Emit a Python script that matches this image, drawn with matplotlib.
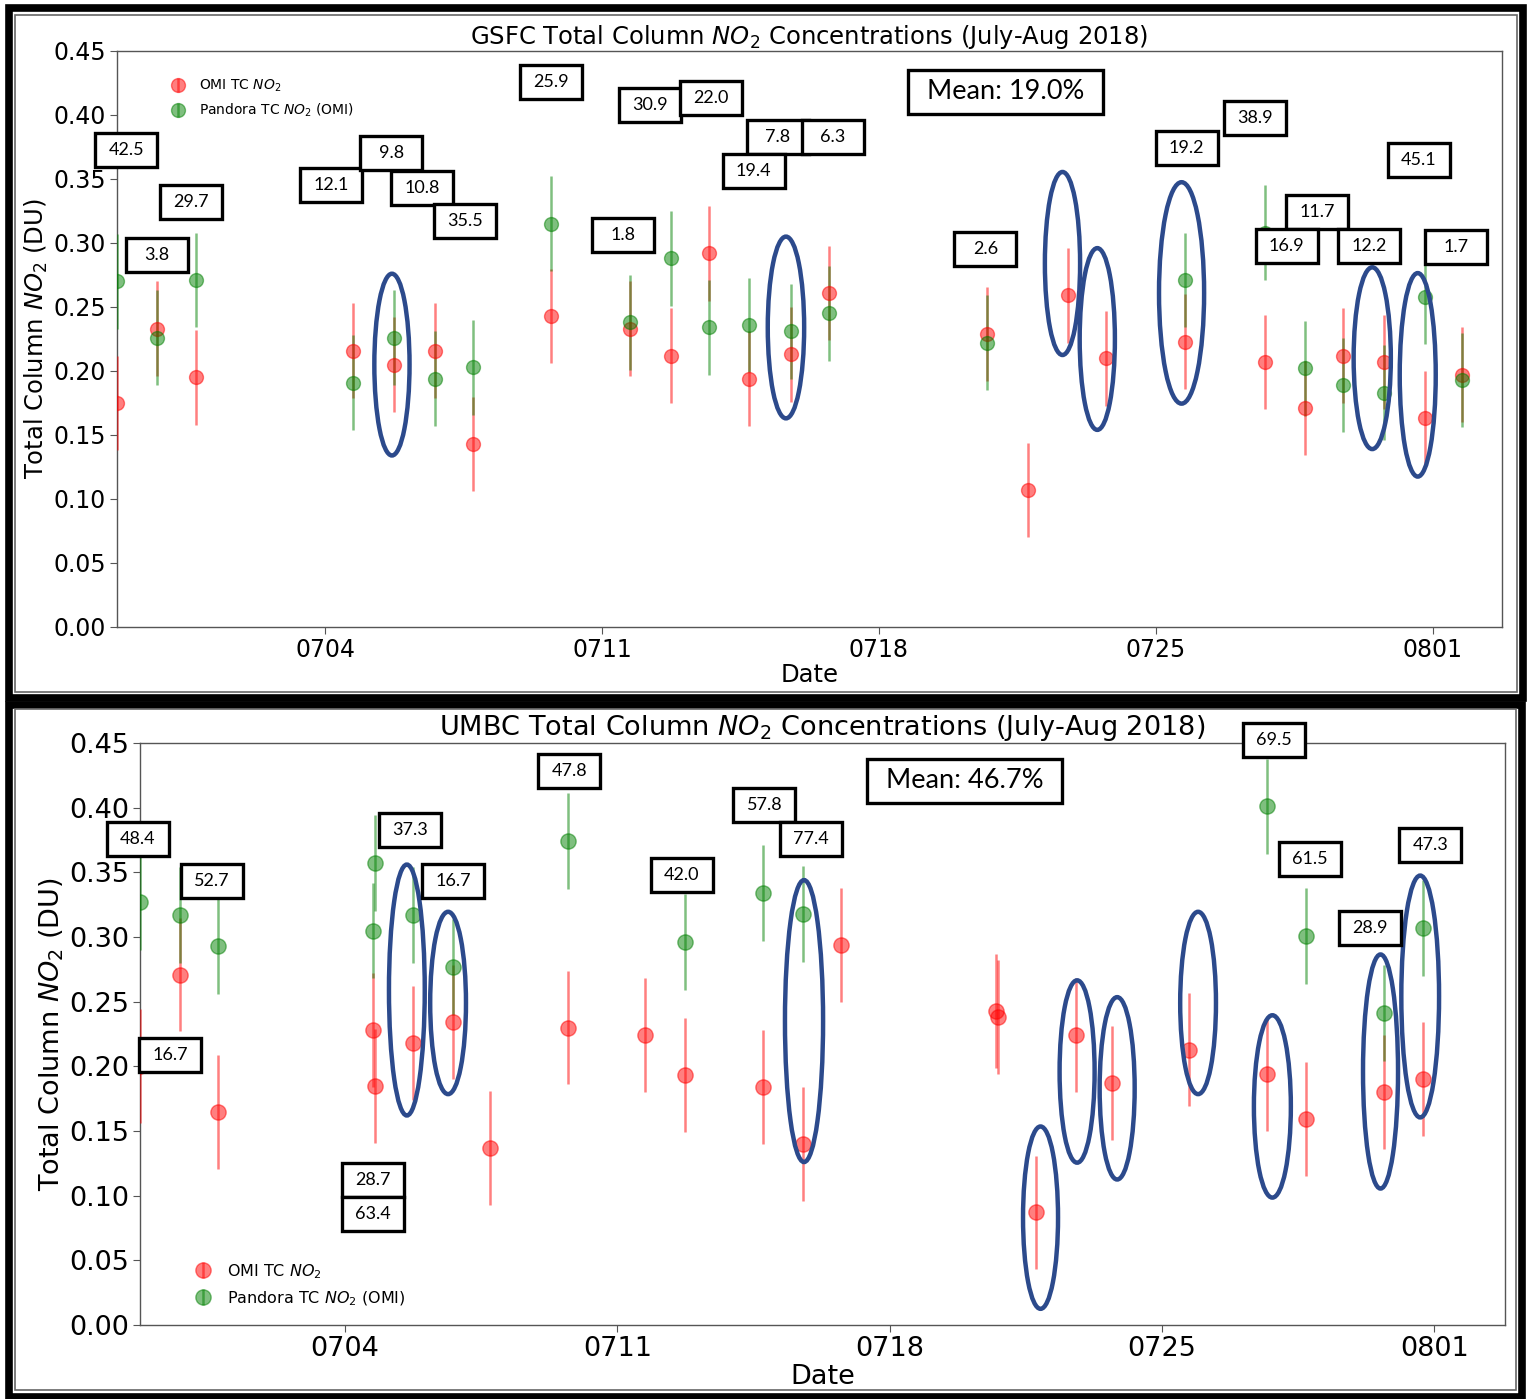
import numpy as np
import pandas as pd
import matplotlib
matplotlib.use('Agg')
import matplotlib.pyplot as plt
import matplotlib.dates as mdates
from matplotlib.patches import Rectangle, Ellipse
from matplotlib.transforms import ScaledTranslation

# OMI overpass times, as fractional day of July 2018 (32 = Aug 1)
gsfc_day = [-1.26, -0.25, 0.74, 4.71, 5.74, 6.78, 7.74, 9.71, 11.71, 12.74, 13.70,
            14.71, 15.78, 16.74, 20.73, 21.77, 22.78, 23.74, 25.73, 27.75, 28.76,
            29.73, 30.76, 31.80, 32.73]
gsfc_omi = [0.175, 0.233, 0.195, 0.216, 0.205, 0.216, 0.143, 0.243, 0.233, 0.212, 0.292,
            0.194, 0.213, 0.261, 0.229, 0.107, 0.259, 0.210, 0.223, 0.207, 0.171,
            0.212, 0.207, 0.163, 0.197]
gsfc_pandora = [0.270, 0.226, 0.271, 0.191, 0.226, 0.194, 0.203, 0.315, 0.238, 0.288, 0.234,
                0.236, 0.231, 0.245, 0.222, np.nan, np.nan, np.nan, 0.271, 0.308, 0.202,
                0.189, 0.183, 0.258, 0.193]
gsfc_omi_err = [0.037] * len(gsfc_day)
gsfc_pan_err = [0.037] * len(gsfc_day)

umbc_day = [-1.27, -0.24, 0.74, 4.72, 4.78, 5.75, 6.78, 7.73, 9.73, 11.71, 12.74, 14.75,
            15.77, 16.75, 20.73, 20.78, 21.76, 22.79, 23.73, 25.70, 27.70, 28.70, 30.70, 31.70]
umbc_omi = [0.200, 0.271, 0.165, 0.228, 0.185, 0.218, 0.234, 0.137, 0.230, 0.224, 0.193, 0.184,
            0.140, 0.294, 0.243, 0.238, 0.087, 0.224, 0.187, 0.213, 0.194, 0.159, 0.180, 0.190]
umbc_pandora = [0.327, 0.317, 0.293, 0.305, 0.357, 0.317, 0.277, np.nan, 0.374, np.nan, 0.296,
                0.334, 0.318, np.nan, np.nan, np.nan, np.nan, np.nan, np.nan, np.nan,
                0.401, 0.301, 0.241, 0.307]
umbc_omi_err = [0.044] * len(umbc_day)
umbc_pan_err = [0.037] * len(umbc_day)

# percent-difference labels: (day, DU, text)
gsfc_labels = [(-1.03, 0.373, '42.5'), (0.61, 0.332, '29.7'), (-0.25, 0.291, '3.8'),
               (4.15, 0.345, '12.1'), (5.67, 0.370, '9.8'), (6.45, 0.343, '10.8'),
               (7.54, 0.317, '35.5'), (9.70, 0.426, '25.9'), (12.21, 0.408, '30.9'),
               (13.75, 0.413, '22.0'), (15.44, 0.383, '7.8'), (16.83, 0.383, '6.3'),
               (14.83, 0.356, '19.4'), (11.54, 0.306, '1.8'), (20.69, 0.295, '2.6'),
               (25.78, 0.374, '19.2'), (27.50, 0.398, '38.9'), (31.65, 0.365, '45.1'),
               (29.08, 0.324, '11.7'), (28.31, 0.298, '16.9'), (30.40, 0.298, '12.2'),
               (32.58, 0.297, '1.7')]
umbc_labels = [(-1.32, 0.376, '48.4'), (0.58, 0.343, '52.7'), (-0.49, 0.209, '16.7'),
               (5.67, 0.383, '37.3'), (6.78, 0.343, '16.7'), (4.72, 0.112, '28.7'),
               (4.72, 0.086, '63.4'), (9.77, 0.428, '47.8'), (12.66, 0.348, '42.0'),
               (14.78, 0.402, '57.8'), (15.98, 0.376, '77.4'), (27.87, 0.452, '69.5'),
               (28.81, 0.360, '61.5'), (30.35, 0.307, '28.9'), (31.90, 0.371, '47.3')]
gsfc_mean = (21.21, 0.418, 'Mean: 19.0%')
umbc_mean = (19.93, 0.421, 'Mean: 46.7%')

# highlighted points: (day, DU, width in days, height in DU)
gsfc_rings = [(5.69, 0.205, 0.89, 0.142), (15.65, 0.234, 0.92, 0.142),
              (22.64, 0.284, 0.89, 0.143), (23.52, 0.225, 0.89, 0.142),
              (25.65, 0.261, 1.14, 0.173), (30.47, 0.210, 0.94, 0.142),
              (31.62, 0.197, 0.91, 0.159)]
umbc_rings = [(5.59, 0.259, 0.92, 0.194), (6.65, 0.249, 0.92, 0.141),
              (15.80, 0.235, 0.98, 0.218), (21.88, 0.083, 0.90, 0.141),
              (22.82, 0.196, 0.90, 0.141), (23.85, 0.183, 0.90, 0.141),
              (25.93, 0.249, 0.92, 0.141), (27.84, 0.169, 0.95, 0.141),
              (30.62, 0.196, 0.90, 0.181), (31.64, 0.254, 0.97, 0.187)]

yticks = [0.00, 0.05, 0.10, 0.15, 0.20, 0.25, 0.30, 0.35, 0.40, 0.45]
base = pd.Timestamp('2018-06-30')


def to_date(d):
    return mdates.date2num(base + pd.to_timedelta(np.asarray(d, dtype=float), unit='D'))


W, H = 1531, 1399
fig = plt.figure(figsize=(W / 100, H / 100), dpi=100)

ax1 = fig.add_axes([117 / W, 1 - 627 / H, 1385 / W, 576 / H])
ax2 = fig.add_axes([140 / W, 1 - 1325 / H, 1365 / W, 582 / H])

RING = '#2c4a8c'


def box(ax, d, v, text, w=0.62, h=0.34, fs=13, z=5):
    tr = fig.dpi_scale_trans + ScaledTranslation(to_date(d), v, ax.transData)
    ax.add_patch(Rectangle((-w / 2, -h / 2), w, h, transform=tr, fc='white', ec='black',
                           lw=2.4, clip_on=False, zorder=z))
    ax.text(0, 0, text, transform=tr, ha='center', va='center', fontsize=fs,
            family='Lato', zorder=z + 0.5, clip_on=False)


def panel(ax, title, day, omi, pan, oerr, perr, labels, mean, rings, xlim,
          legloc, legfs, ms, fs):
    x = to_date(day)
    ax.errorbar(x, omi, yerr=oerr, fmt='o', color='r', ms=ms, elinewidth=1.8,
                alpha=0.5, label='OMI TC $NO_2$', zorder=3)
    ax.errorbar(x, pan, yerr=perr, fmt='o', color='g', ms=ms, elinewidth=1.8,
                alpha=0.5, label='Pandora TC $NO_2$ (OMI)', zorder=3)
    for d, v, w, h in rings:
        ax.add_patch(Ellipse((to_date(d), v), w, h, fill=False, ec=RING, lw=3.2, zorder=4))
    for i, (d, v, t) in enumerate(labels):
        box(ax, d, v, t, z=5 + i)
    box(ax, mean[0], mean[1], mean[2], w=1.95, h=0.44, fs=19.5, z=40)

    ax.set_xlim(to_date(xlim[0]), to_date(xlim[1]))
    ax.set_ylim(0, 0.45)
    ax.set_yticks(yticks)
    ax.yaxis.set_major_formatter(matplotlib.ticker.FormatStrFormatter('%.2f'))
    ax.xaxis.set_major_locator(mdates.WeekdayLocator(byweekday=mdates.WE))
    ax.xaxis.set_major_formatter(mdates.DateFormatter('%m%d'))
    ax.tick_params(labelsize=fs[0], length=5, color='#555555', pad=3)
    for s in ax.spines.values():
        s.set_color('#555555')
        s.set_linewidth(1.0)
    ax.set_title(title, fontsize=fs[1], pad=2)
    ax.set_xlabel('Date', fontsize=fs[1], labelpad=1)
    ax.set_ylabel('Total Column $NO_2$ (DU)', fontsize=fs[1], labelpad=2)
    ax.legend(loc=legloc[0], bbox_to_anchor=legloc[1], frameon=False, fontsize=legfs,
              handlelength=1.0, handletextpad=1.0, labelspacing=0.55)


panel(ax1, 'GSFC Total Column $NO_2$ Concentrations (July-Aug 2018)',
      gsfc_day, gsfc_omi, gsfc_pandora, gsfc_omi_err, gsfc_pan_err,
      gsfc_labels, gsfc_mean, gsfc_rings, (-1.26, 33.75),
      ('upper left', (0.03, 0.975)), 10, 10, (17, 17.5))
panel(ax2, 'UMBC Total Column $NO_2$ Concentrations (July-Aug 2018)',
      umbc_day, umbc_omi, umbc_pandora, umbc_omi_err, umbc_pan_err,
      umbc_labels, umbc_mean, umbc_rings, (-1.27, 33.82),
      ('lower left', (0.03, 0.005)), 11.5, 11, (19.5, 19.5))

# framing borders around each panel (pixel boxes)
for (x0, y0, x1, y1), (i0, j0, i1, j1) in [((9, 8.5, 1523, 698.5), (15, 15, 1517, 692)),
                                           ((9, 705, 1522, 1397), (15, 709, 1516, 1390))]:
    fig.add_artist(Rectangle((x0 / W, 1 - y1 / H), (x1 - x0) / W, (y1 - y0) / H,
                             transform=fig.transFigure, fill=False, ec='black', lw=5.5))
    fig.add_artist(Rectangle((i0 / W, 1 - j1 / H), (i1 - i0) / W, (j1 - j0) / H,
                             transform=fig.transFigure, fill=False, ec='#666666', lw=1.2))

fig.savefig('out.png', dpi=100)
